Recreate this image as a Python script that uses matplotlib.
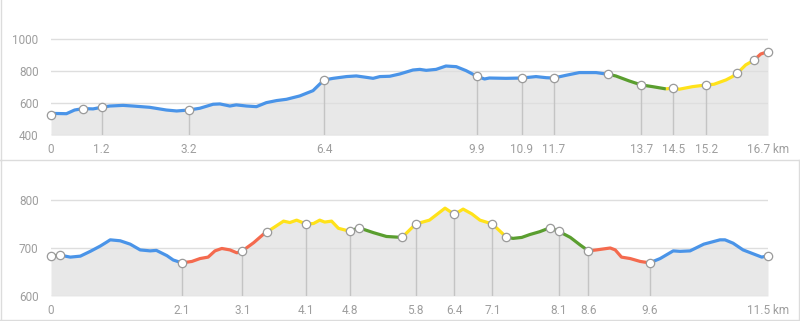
import matplotlib
matplotlib.use("Agg")
import matplotlib.pyplot as plt
from matplotlib.lines import Line2D
import numpy as np

plt.rcParams['font.family'] = ['Roboto', 'DejaVu Sans']

# ---- top profile (km, m) ----
top_km = [0, 0.36, 0.55, 0.75, 0.98, 1.18, 1.37, 1.68, 1.91, 2.30, 2.69, 2.93, 3.21,
          3.47, 3.78, 3.94, 4.17, 4.32, 4.56, 4.79, 5.02, 5.26, 5.49, 5.80, 6.11, 6.27,
          6.37, 6.58, 6.89, 7.12, 7.36, 7.51, 7.67, 7.90, 8.13, 8.44, 8.60, 8.75, 8.98,
          9.21, 9.45, 9.68, 9.93, 10.11, 10.22, 10.61, 10.98, 11.31, 11.55, 11.72, 12.01,
          12.32, 12.71, 13.00, 13.17, 13.48, 13.76, 14.03, 14.34, 14.51, 14.65, 14.96,
          15.28, 15.46, 15.74, 15.89, 16.00, 16.20, 16.39, 16.55, 16.72]
top_elev = [537, 535, 558, 567, 565, 575, 583, 587, 583, 575, 558, 552, 558,
            569, 594, 596, 583, 590, 583, 579, 604, 617, 625, 646, 679, 721,
            746, 756, 767, 771, 762, 756, 767, 769, 783, 808, 812, 806, 812,
            833, 829, 804, 769, 752, 758, 756, 758, 767, 760, 758, 775,
            792, 792, 781, 771, 740, 715, 704, 690, 696, 688, 704,
            715, 719, 746, 767, 787, 840, 869, 908, 923]
top_segments = [(0, 13.00, 'blue'), (13.00, 14.34, 'green'),
                (14.34, 16.39, 'yellow'), (16.39, 16.72, 'red')]
top_marker_km = [0, 0.75, 1.18, 3.21, 6.37, 9.93, 10.98, 11.72, 13.00, 13.76,
                 14.51, 15.28, 16.00, 16.39, 16.72]
top_marker_elev = [529, 567, 575, 558, 746, 769, 758, 758, 781, 715,
                   696, 715, 787, 869, 923]
top_tick_km = [0, 1.18, 3.21, 6.37, 9.93, 10.98, 11.72, 13.76, 14.51, 15.28, 16.72]
top_tick_text = ['0', '1.2', '3.2', '6.4', '9.9', '10.9', '11.7', '13.7', '14.5', '15.2', '16.7 km']
top_yticks = [400, 600, 800, 1000]

# ---- bottom profile ----
bot_km = [0, 0.15, 0.31, 0.47, 0.63, 0.79, 0.89, 0.95, 1.11, 1.27, 1.43, 1.59, 1.69,
          1.86, 1.96, 2.10, 2.26, 2.39, 2.52, 2.63, 2.74, 2.87, 2.98, 3.07, 3.25, 3.41,
          3.47, 3.59, 3.73, 3.83, 3.94, 4.09, 4.21, 4.31, 4.39, 4.50, 4.61, 4.79, 4.94,
          5.17, 5.38, 5.63, 5.85, 6.07, 6.32, 6.47, 6.61, 6.75, 6.88, 7.08, 7.30, 7.41,
          7.55, 7.68, 7.84, 8.00, 8.14, 8.33, 8.49, 8.62, 8.75, 8.97, 9.05, 9.15, 9.29,
          9.45, 9.60, 9.77, 9.98, 10.09, 10.25, 10.47, 10.73, 10.81, 10.94, 11.10, 11.26,
          11.40, 11.50]
bot_elev = [683, 685, 681, 683, 693, 704, 712, 717, 715, 708, 696, 694, 695,
            684, 675, 669, 672, 678, 681, 694, 699, 696, 690, 694, 711, 729,
            734, 744, 756, 753, 758, 750, 751, 758, 754, 756, 741, 735, 742,
            732, 724, 722, 750, 758, 783, 770, 781, 771, 758, 750, 723, 720,
            722, 728, 734, 742, 735, 722, 706, 694, 696, 700, 696, 681, 678,
            672, 669, 678, 694, 693, 694, 708, 717, 717, 710, 696, 688,
            681, 684]
bot_segments = [(0, 0.15, 'green'), (0.15, 2.10, 'blue'), (2.10, 3.47, 'red'),
                (3.47, 4.79, 'yellow'), (4.79, 5.63, 'green'), (5.63, 7.30, 'yellow'),
                (7.30, 8.62, 'green'), (8.62, 9.60, 'red'), (9.60, 11.50, 'blue')]
bot_marker_km = [0, 0.15, 2.10, 3.07, 3.47, 4.09, 4.79, 4.94, 5.63, 5.85, 6.47,
                 7.08, 7.30, 8.00, 8.14, 8.62, 9.60, 11.50]
bot_marker_elev = [683, 685, 669, 694, 734, 750, 735, 742, 722, 750, 770,
                   750, 723, 742, 735, 694, 669, 684]
bot_tick_km = [0, 2.10, 3.07, 4.09, 4.79, 5.85, 6.47, 7.08, 8.14, 8.62, 9.60, 11.50]
bot_tick_text = ['0', '2.1', '3.1', '4.1', '4.8', '5.8', '6.4', '7.1', '8.1', '8.6', '9.6', '11.5 km']
bot_yticks = [600, 700, 800]

colors = {'blue': '#4a94e8', 'green': '#5a9e2f', 'yellow': '#ffe21a', 'red': '#f46a4e'}
W, H = 800, 321


def draw_profile(ax, km, elev, segments, mk_km, mk_elev, tick_km, tick_text, yticks, ylim):
    km = np.array(km)
    elev = np.array(elev)
    ax.set_xlim(0, km[-1])
    ax.set_ylim(*ylim)
    ax.fill_between(km, elev, ylim[0], color='#e8e8e8', lw=0, zorder=1)
    for y in yticks:
        ax.axhline(y, color='#dedede', lw=1, zorder=2)
    # drop lines from labelled waypoints
    for t in tick_km[1:-1]:
        i = mk_km.index(t)
        ax.plot([t, t], [ylim[0], mk_elev[i]], color='#c4c4c4', lw=1, zorder=3)
    for a, b, c in segments:
        m = (km >= a) & (km <= b)
        ax.plot(km[m], elev[m], color=colors[c], lw=2.3, solid_capstyle='butt',
                solid_joinstyle='round', zorder=4)
    ax.plot(mk_km, mk_elev, 'o', ms=6, mfc='white', mec='#9a9a9a', mew=0.9,
            zorder=5, clip_on=False)
    ax.set_xticks(tick_km)
    ax.set_xticklabels(tick_text)
    ax.set_yticks(yticks)
    ax.tick_params(length=0, colors='#9e9e9e', labelsize=8.5)
    ax.tick_params(axis='x', pad=5.5)
    ax.tick_params(axis='y', pad=9)
    for s in ax.spines.values():
        s.set_visible(False)


fig = plt.figure(figsize=(W / 100, H / 100), dpi=100)

# top axes: x 51..768 px, 400 m at y=135.3 px, 32 px per 200 m
ax1 = fig.add_axes([51 / W, (H - 135.3) / H, 717 / W, 128 / H])
draw_profile(ax1, top_km, top_elev, top_segments, top_marker_km, top_marker_elev,
             top_tick_km, top_tick_text, top_yticks, (400, 1200))

# bottom axes: 600 m at y=296 px, 48 px per 100 m
ax2 = fig.add_axes([51 / W, (H - 296) / H, 717 / W, 127.7 / H])
draw_profile(ax2, bot_km, bot_elev, bot_segments, bot_marker_km, bot_marker_elev,
             bot_tick_km, bot_tick_text, bot_yticks, (600, 866))

# panel borders
bc = '#dcdcdc'
def hline(y, x0, x1):
    fig.add_artist(Line2D([x0 / W, x1 / W], [1 - y / H, 1 - y / H], color=bc, lw=1))
def vline(x, y0, y1):
    fig.add_artist(Line2D([x / W, x / W], [1 - y0 / H, 1 - y1 / H], color=bc, lw=1))

vline(1, 0, 159.5)
hline(159.5, 0, 800)
vline(1, 159.5, 320)
vline(799, 159.5, 320)
hline(320, 0, 799)

fig.savefig('out.png', dpi=100)
